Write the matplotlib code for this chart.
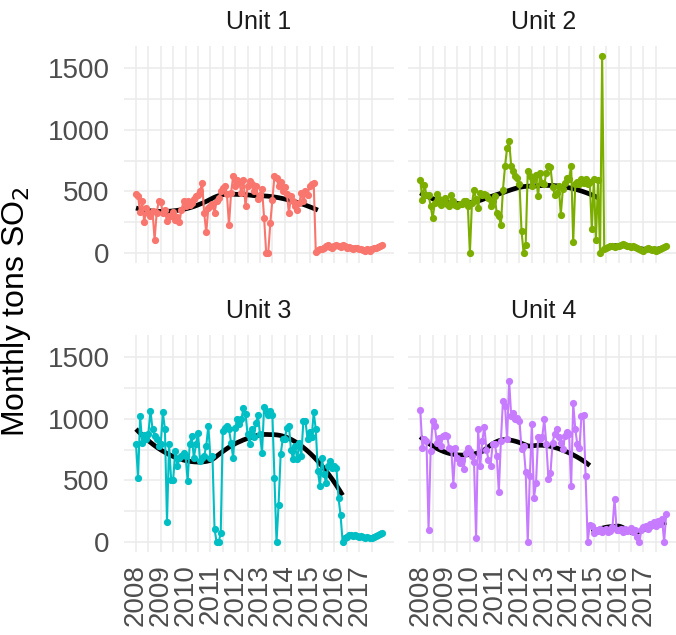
import numpy as np
import matplotlib
matplotlib.use("Agg")
import matplotlib.pyplot as plt

plt.rcParams['font.family'] = ['Liberation Sans', 'DejaVu Sans']

# monthly SO2 (tons), Jan 2008 .. Dec 2017, one row per year
unit1_so2 = [
    482, 460, 330, 420, 250, 365, 325, 300, 340, 108, 325, 420,
    415, 325, 350, 257, 298, 300, 330, 271, 290, 250, 352, 420,
    380, 420, 393, 410, 439, 460, 474, 500, 569, 325, 168, 366,
    385, 400, 325, 420, 447, 500, 528, 542, 480, 225, 488, 623,
    542, 596, 569, 488, 596, 380, 542, 583, 560, 500, 545, 440,
    474, 520, 285, 0, 5, 244, 434, 623, 610, 542, 575, 500,
    540, 480, 325, 460, 420, 380, 352, 407, 488, 420, 500, 470,
    542, 563, 569, 8, 22, 30, 35, 40, 55, 65, 50, 45,
    60, 70, 55, 50, 65, 55, 45, 50, 40, 35, 45, 40,
    30, 35, 25, 15, 30, 20, 35, 45, 40, 50, 55, 65,
]
unit2_so2 = [
    596, 434, 556, 470, 474, 380, 285, 407, 482, 440, 393, 420,
    450, 400, 380, 474, 420, 393, 380, 400, 395, 420, 420, 380,
    0, 407, 510, 440, 366, 488, 470, 482, 474, 447, 380, 420,
    460, 325, 298, 230, 515, 705, 854, 908, 705, 664, 623, 610,
    560, 176, 0, 68, 664, 623, 542, 600, 637, 460, 650, 570,
    560, 650, 705, 697, 540, 474, 488, 542, 312, 520, 570, 610,
    600, 710, 87, 560, 580, 560, 600, 570, 600, 560, 580, 195,
    600, 108, 590, 0, 1600, 30, 40, 50, 55, 60, 50, 55,
    60, 70, 75, 65, 60, 55, 50, 55, 50, 45, 35, 25,
    20, 35, 40, 30, 25, 30, 20, 25, 35, 40, 50, 60,
]
unit3_so2 = [
    793, 522, 1019, 807, 870, 840, 880, 1065, 916, 860, 834, 780,
    800, 1052, 916, 163, 793, 508, 508, 739, 617, 680, 700, 725,
    700, 494, 793, 861, 680, 793, 889, 657, 685, 700, 780, 943,
    685, 700, 109, 0, 0, 73, 902, 929, 943, 916, 807, 685,
    929, 997, 960, 997, 1087, 1040, 875, 793, 916, 850, 964, 1030,
    875, 725, 1100, 1065, 1030, 1065, 1030, 522, 0, 304, 712, 834,
    834, 929, 943, 750, 671, 780, 671, 807, 700, 984, 984, 834,
    890, 850, 1052, 916, 576, 454, 685, 549, 481, 617, 657, 600,
    620, 600, 359, 217, 0, 30, 45, 55, 60, 50, 55, 50,
    45, 50, 40, 35, 40, 35, 30, 40, 50, 60, 70, 75,
]
unit4_so2 = [
    1070, 766, 834, 820, 100, 740, 984, 943, 807, 848, 780, 861,
    870, 860, 760, 752, 467, 766, 685, 640, 670, 590, 725, 766,
    740, 700, 650, 33, 916, 617, 820, 937, 750, 670, 620, 793,
    800, 700, 408, 820, 1147, 1106, 834, 1304, 1024, 1050, 997, 1010,
    984, 752, 780, 568, 0, 535, 956, 359, 481, 850, 834, 850,
    997, 793, 514, 560, 807, 880, 916, 850, 807, 752, 861, 890,
    880, 454, 1128, 916, 793, 766, 1024, 1030, 535, 0, 141, 128,
    73, 100, 90, 105, 85, 95, 110, 80, 90, 120, 353, 100,
    95, 110, 80, 105, 90, 100, 115, 85, 95, 40, 0, 100,
    120, 130, 110, 150, 140, 160, 130, 170, 150, 190, 0, 228,
]

units = ["Unit 1", "Unit 2", "Unit 3", "Unit 4"]
series = [unit1_so2, unit2_so2, unit3_so2, unit4_so2]
colors = ["#F8766D", "#7CAE00", "#00BFC4", "#C77CFF"]
# month index where the early trend ends / the late trend starts
pre_end = [89, 87, 101, 83]
post_start = [89, 89, 101, 83]
years = list(range(2008, 2018))

months = 2008 + np.arange(120) / 12.0


def loess(x, y, xs, span=0.75):
    n = len(x)
    q = int(np.floor(span * n))
    fit = []
    for x0 in xs:
        d = np.abs(x - x0)
        h = np.sort(d)[q - 1]
        w = np.clip(1 - (d / h) ** 3, 0, None) ** 3
        X = np.vstack([np.ones(n), x - x0, (x - x0) ** 2]).T
        sw = np.sqrt(w)
        beta = np.linalg.lstsq(X * sw[:, None], y * sw, rcond=None)[0]
        fit.append(beta[0])
    return np.array(fit)


fig = plt.figure(figsize=(6.76, 6.35), dpi=100)
W, H = 676.0, 635.0
pw, ph = 270.5, 217.0
lefts = [123.7, 408.0]
tops = [46.0, 335.0]

allv = np.concatenate([np.asarray(s, float) for s in series])
yr = allv.max() - allv.min()
ylim = (allv.min() - 0.05 * yr, allv.max() + 0.05 * yr)
xr = months[-1] - months[0]
xlim = (months[0] - 0.05 * xr, months[-1] + 0.05 * xr)

grid_c = "#EBEBEB"

for i, (name, vals, col) in enumerate(zip(units, series, colors)):
    r, c = divmod(i, 2)
    ax = fig.add_axes([lefts[c] / W, 1 - (tops[r] + ph) / H, pw / W, ph / H])
    vals = np.asarray(vals, float)

    for a, b in [(0, pre_end[i]), (post_start[i], 120)]:
        xs = np.linspace(months[a], months[b - 1], 80)
        ax.plot(xs, loess(months[a:b], vals[a:b], xs), color="black", lw=3.4,
                solid_capstyle="butt", zorder=2)

    ax.plot(months, vals, color=col, lw=1.5, marker="o", ms=5.2,
            markeredgewidth=0, zorder=3)

    ax.set_xlim(xlim)
    ax.set_ylim(ylim)
    ax.set_xticks(years)
    ax.set_xticks(np.arange(2008.5, 2018.01, 1.0), minor=True)
    ax.set_yticks([0, 500, 1000, 1500])
    ax.set_yticks([250, 750, 1250], minor=True)
    ax.grid(True, which="major", color=grid_c, lw=1.1, zorder=0)
    ax.grid(True, which="minor", color=grid_c, lw=1.1, zorder=0)
    ax.set_axisbelow(True)
    for s in ax.spines.values():
        s.set_visible(False)
    ax.tick_params(which="both", length=0, colors="#4D4D4D", labelsize=20)
    ax.tick_params(axis="y", pad=10)
    ax.tick_params(axis="x", pad=9)

    if c == 0:
        ax.set_yticklabels(["0", "500", "1000", "1500"])
    else:
        ax.set_yticklabels([])
    if r == 1:
        ax.set_xticklabels([str(y) for y in years], rotation=90, va="top", ha="center")
    else:
        ax.set_xticklabels([])

    ax.set_title(name, fontsize=18, color="#1A1A1A", pad=12)

fig.text(0.024, 1 - 312 / H, "Monthly tons SO$_2$", rotation=90, fontsize=23,
         ha="center", va="center")

fig.savefig("out.png", dpi=100, facecolor="white")
